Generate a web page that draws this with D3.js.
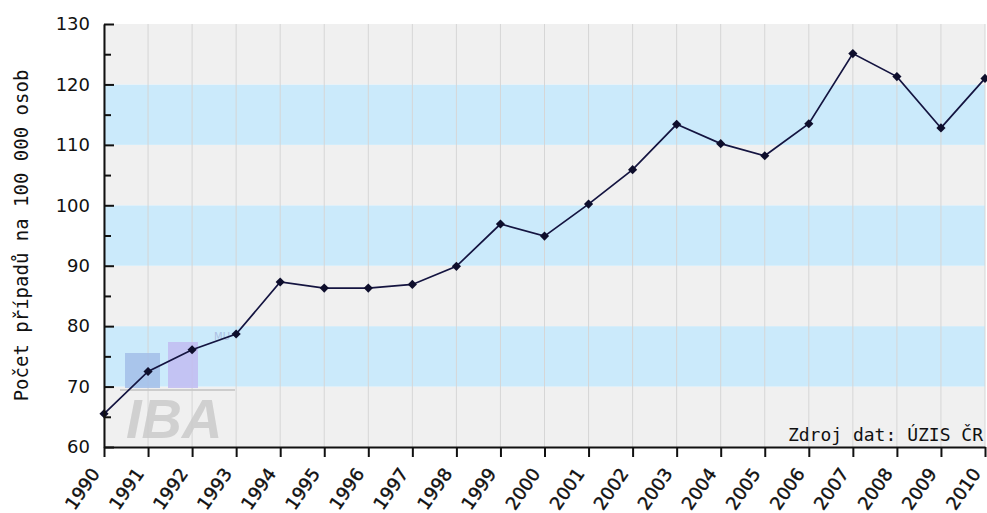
<!DOCTYPE html>
<html>
<head>
<meta charset="utf-8">
<script src="https://cdn.jsdelivr.net/npm/d3@7"></script>
<style>
  body { margin: 0; background: #fff; }
  svg { display: block; }
</style>
</head>
<body>
<svg width="987" height="513"></svg>
<script>
// data
var years = [1990, 1991, 1992, 1993, 1994, 1995, 1996, 1997, 1998, 1999, 2000,
             2001, 2002, 2003, 2004, 2005, 2006, 2007, 2008, 2009, 2010];
var values = [65.5, 72.5, 76.1, 78.7, 87.3, 86.3, 86.3, 86.9, 89.9, 96.9, 94.9,
              100.2, 105.9, 113.4, 110.2, 108.2, 113.5, 125.1, 121.3, 112.8, 121.0];
var yTicks = [60, 70, 80, 90, 100, 110, 120, 130];
var yMinorTicks = [65, 75, 85, 95, 105, 115, 125];
var bands = [[60, 70], [70, 80], [80, 90], [90, 100], [100, 110], [110, 120], [120, 130]];
var yTitle = "Počet případů na 100 000 osob";
var source = "Zdroj dat: ÚZIS ČR";

var svg = d3.select("svg"),
    margin = {top: 24, right: 2, bottom: 66, left: 104},
    width = +svg.attr("width") - margin.left - margin.right,
    height = +svg.attr("height") - margin.top - margin.bottom;

var x = d3.scaleLinear().domain([1990, 2010]).range([0, width]);
var y = d3.scaleLinear().domain([60, 130]).range([height, 0]);

var g = svg.append("g")
    .attr("transform", "translate(" + margin.left + "," + margin.top + ")");

// background bands
g.selectAll(".band")
    .data(bands)
    .enter().append("rect")
    .attr("class", "band")
    .attr("x", 0)
    .attr("width", width)
    .attr("y", function (d) { return y(d[1]); })
    .attr("height", function (d) { return y(d[0]) - y(d[1]); })
    .attr("fill", function (d, i) { return i % 2 === 1 ? "#cbeafb" : "#f0f0f0"; });

// vertical grid
g.selectAll(".vgrid")
    .data(years)
    .enter().append("line")
    .attr("class", "vgrid")
    .attr("x1", function (d) { return x(d); })
    .attr("x2", function (d) { return x(d); })
    .attr("y1", 0)
    .attr("y2", height)
    .attr("stroke", "#d6d6d6")
    .attr("stroke-width", 1);

// watermark logo
var logo = g.append("g").attr("opacity", 0.85);
logo.append("rect").attr("x", 21).attr("y", 329).attr("width", 35).attr("height", 35).attr("fill", "#a4bfe9");
logo.append("rect").attr("x", 64).attr("y", 318).attr("width", 30).attr("height", 46).attr("fill", "#c2bdf2");
logo.append("text").attr("x", 110).attr("y", 316).attr("font-family", "DejaVu Sans").attr("font-size", 10)
    .attr("fill", "#a8b8e0").text("MU");
logo.append("line").attr("x1", 16).attr("x2", 131).attr("y1", 366).attr("y2", 366)
    .attr("stroke", "#c8c8c8").attr("stroke-width", 2);
logo.append("text").attr("x", 22).attr("y", 414)
    .attr("font-family", "Liberation Sans").attr("font-weight", "bold").attr("font-style", "italic")
    .attr("font-size", 56).attr("fill", "#cbcbcb").text("IBA");

// source note
g.append("text")
    .attr("x", width - 2)
    .attr("y", height - 6)
    .attr("text-anchor", "end")
    .attr("font-family", "DejaVu Sans Mono")
    .attr("font-size", 18)
    .attr("fill", "#111")
    .text(source);

// line
var line = d3.line()
    .x(function (d, i) { return x(years[i]); })
    .y(function (d) { return y(d); });

g.append("path")
    .datum(values)
    .attr("fill", "none")
    .attr("stroke", "#141440")
    .attr("stroke-width", 1.7)
    .attr("d", line);

g.selectAll(".dot")
    .data(values)
    .enter().append("path")
    .attr("class", "dot")
    .attr("d", d3.symbol().type(d3.symbolSquare).size(42))
    .attr("transform", function (d, i) {
        return "translate(" + x(years[i]) + "," + y(d) + ") rotate(45)";
    })
    .attr("fill", "#0e0e2c");

// y axis (ticks point inward)
g.append("g")
    .attr("class", "y axis")
    .call(d3.axisRight(y).tickValues(yMinorTicks).tickSize(7).tickFormat(""))
    .call(function (s) { s.select(".domain").remove(); });

var yAxis = g.append("g")
    .attr("class", "y axis")
    .call(d3.axisRight(y).tickValues(yTicks).tickSize(10).tickSizeOuter(0));
yAxis.selectAll("text")
    .attr("x", -14)
    .attr("text-anchor", "end")
    .attr("font-family", "DejaVu Sans")
    .attr("font-size", 18)
    .attr("fill", "#111");

// x axis
var xAxis = g.append("g")
    .attr("class", "x axis")
    .attr("transform", "translate(0," + height + ")")
    .call(d3.axisBottom(x).tickValues(years).tickFormat(d3.format("d")).tickSize(10).tickSizeOuter(0));
xAxis.selectAll("text")
    .attr("font-family", "DejaVu Sans")
    .attr("font-size", 18)
    .attr("fill", "#111")
    .attr("stroke", "#111")
    .attr("stroke-width", 0.4)
    .attr("text-anchor", "end")
    .attr("x", 0)
    .attr("y", 0)
    .attr("dy", "0.35em")
    .attr("transform", "translate(-9,23) rotate(-55)");

svg.selectAll(".axis line").attr("stroke", "#111").attr("stroke-width", 2);
svg.selectAll(".axis .domain").attr("stroke", "#111").attr("stroke-width", 2);

// y title
svg.append("text")
    .attr("transform", "translate(28," + (margin.top + height / 2) + ") rotate(-90)")
    .attr("text-anchor", "middle")
    .attr("font-family", "DejaVu Sans Mono")
    .attr("font-size", 19)
    .attr("fill", "#111")
    .text(yTitle);
</script>
</body>
</html>
